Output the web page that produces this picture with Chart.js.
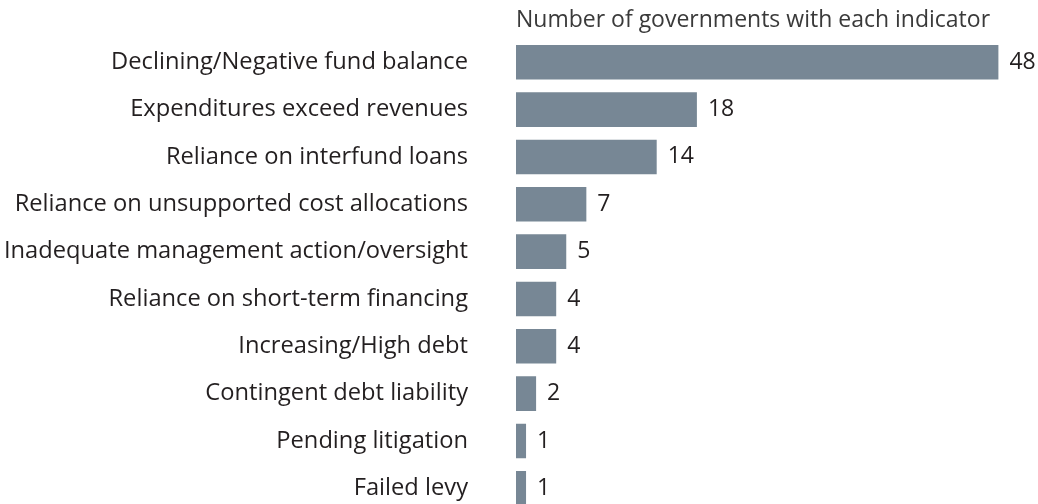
<!DOCTYPE html>
<html>
<head>
<meta charset="utf-8">
<script src="https://cdn.jsdelivr.net/npm/chart.js@4"></script>
<style>
  html, body { margin: 0; padding: 0; background: #fff; overflow: hidden; }
  canvas { display: block; }
</style>
</head>
<body>
<canvas id="indicatorChart" width="1038" height="516"></canvas>
<script>
// indicators and how many governments showed each one
const indicators = [
  "Declining/Negative fund balance",
  "Expenditures exceed revenues",
  "Reliance on interfund loans",
  "Reliance on unsupported cost allocations",
  "Inadequate management action/oversight",
  "Reliance on short-term financing",
  "Increasing/High debt",
  "Contingent debt liability",
  "Pending litigation",
  "Failed levy"
];
const governmentCounts = [48, 18, 14, 7, 5, 4, 4, 2, 1, 1];

const FONT = "'Open Sans', sans-serif";
const FONT_SIZE = 23;
const LABEL_SIZE = 23.7;
const TEXT_COLOR = "#231f20";
const BAR_COLOR = "#778795";

// writes the count just past the end of each bar
const valueLabels = {
  id: "valueLabels",
  afterDatasetsDraw(chart) {
    const ctx = chart.ctx;
    const meta = chart.getDatasetMeta(0);
    ctx.save();
    ctx.font = FONT_SIZE + "px " + FONT;
    ctx.fillStyle = TEXT_COLOR;
    ctx.textAlign = "left";
    ctx.textBaseline = "middle";
    meta.data.forEach((bar, i) => {
      ctx.fillText(String(governmentCounts[i]), bar.x + 11, bar.y);
    });
    ctx.restore();
  }
};

const ctx = document.getElementById("indicatorChart").getContext("2d");
new Chart(ctx, {
  type: "bar",
  data: {
    labels: indicators,
    datasets: [{
      data: governmentCounts,
      backgroundColor: BAR_COLOR,
      borderWidth: 0,
      barPercentage: 0.73,
      categoryPercentage: 1.0
    }]
  },
  options: {
    indexAxis: "y",
    responsive: false,
    animation: false,
    layout: { padding: { top: 0, right: 19.5, bottom: 4, left: 0 } },
    plugins: {
      legend: { display: false },
      tooltip: { enabled: false }
    },
    scales: {
      x: {
        position: "top",
        min: 0,
        max: 50,
        grid: { display: false, drawTicks: false },
        border: { display: false },
        ticks: { display: false },
        title: {
          display: true,
          align: "start",
          text: "Number of governments with each indicator",
          color: "#3a3a3a",
          font: { family: FONT, size: FONT_SIZE },
          padding: { top: 7, bottom: 0 }
        },
        afterFit(scale) { scale.height = 38.6; }
      },
      y: {
        grid: { display: false, drawTicks: false },
        border: { display: false },
        ticks: {
          color: TEXT_COLOR,
          padding: 48,
          font: { family: FONT, size: LABEL_SIZE }
        },
        // fixed label column; drop the extra top/bottom room the tick padding adds
        afterFit(scale) {
          scale.width = 516;
          scale.paddingTop = 0;
          scale.paddingBottom = 0;
        }
      }
    }
  },
  plugins: [valueLabels]
});
</script>
</body>
</html>
